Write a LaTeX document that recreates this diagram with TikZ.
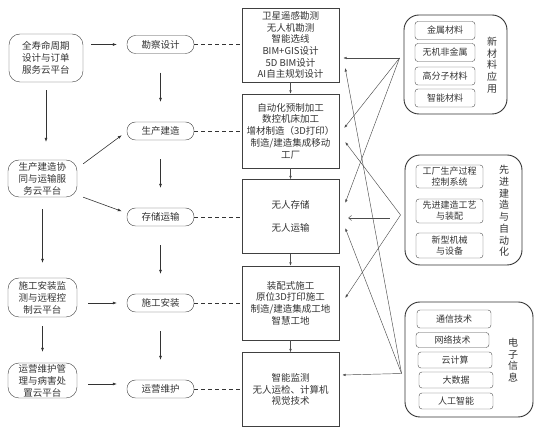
\documentclass[tikz,border=0pt]{standalone}
\usepackage{fontspec}
\setmainfont{Noto Sans CJK SC}
\usetikzlibrary{arrows.meta}

\tikzset{
  every node/.style={text=black!80},
  platform/.style={draw=black!75, rounded corners=11pt, align=center, inner sep=0pt,
    font=\fontsize{9.5}{12}\selectfont},
  stage/.style={draw=black!75, rounded corners=8.5pt, minimum width=67pt, minimum height=18pt,
    inner sep=0pt, font=\fontsize{9.5}{11}\selectfont},
  techbox/.style={draw=black!75, minimum width=97pt, minimum height=74pt, align=center,
    inner sep=0pt, font=\fontsize{9.5}{11.7}\selectfont},
  group/.style={draw=black!80, line width=0.9pt, rounded corners=15pt, inner sep=0pt},
  item/.style={draw=black!70, rounded corners=3pt, inner sep=0pt, align=center,
    font=\fontsize{9}{11}\selectfont},
  side/.style={align=center, font=\fontsize{10}{11.7}\selectfont},
  arr/.style={-{Latex[length=4pt,width=3pt]}, black!80, line width=0.6pt},
  link/.style={-{Latex[length=3.5pt,width=2.5pt]}, black!70, line width=0.45pt},
  guide/.style={black!80, line width=0.6pt, dash pattern=on 4pt off 3pt}
}

\begin{document}
\begin{tikzpicture}[x=1pt, y=-1pt]
  \useasboundingbox (0,0) rectangle (550,438);

  % cloud platforms (left)
  \node[platform, minimum width=74pt, minimum height=48pt] (L1) at (46,58) {全寿命周期\\设计与订单\\服务云平台};
  \node[platform, minimum width=69pt, minimum height=37pt] (L2) at (42.5,178.5) {生产建造协\\同与运输服\\务云平台};
  \node[platform, minimum width=69pt, minimum height=39pt] (L3) at (42.5,297.5) {施工安装监\\测与远程控\\制云平台};
  \node[platform, minimum width=69pt, minimum height=35pt] (L4) at (42.5,380.5) {运营维护管\\理与病害处\\置云平台};

  % life-cycle stages
  \node[stage] (M1) at (160.5,44.5) {勘察设计};
  \node[stage] (M2) at (160.5,131) {生产建造};
  \node[stage] (M3) at (160.5,217) {存储运输};
  \node[stage] (M4) at (160.5,303) {施工安装};
  \node[stage] (M5) at (160.5,389) {运营维护};

  % technologies per stage
  \node[techbox] (R1) at (290.5,45) {卫星遥感勘测\\无人机勘测\\智能选线\\BIM+GIS设计\\5D BIM设计\\AI自主规划设计};
  \node[techbox] (R2) at (290.5,131) {自动化预制加工\\数控机床加工\\增材制造（3D打印）\\制造/建造集成移动\\工厂};
  \node[techbox] (R3) at (290.5,216.5) {无人存储\\[12pt]无人运输};
  \node[techbox] (R4) at (290.5,303) {装配式施工\\原位3D打印施工\\制造/建造集成工地\\智慧工地};
  \node[techbox] (R5) at (290.5,389.5) {智能监测\\无人运检、计算机\\视觉技术};

  % supporting fields
  \node[group, minimum width=103pt, minimum height=99pt] (G1) at (455.5,64.5) {};
  \node[item, minimum width=60pt, minimum height=18pt] (g11) at (445,30.5) {金属材料};
  \node[item, minimum width=60pt, minimum height=18pt] (g12) at (445,52.5) {无机非金属};
  \node[item, minimum width=60pt, minimum height=18pt] (g13) at (445,76) {高分子材料};
  \node[item, minimum width=60pt, minimum height=18pt] (g14) at (445,98) {智能材料};
  \node[side] (s1) at (492,65) {新\\材\\料\\应\\用};

  \node[group, minimum width=117pt, minimum height=110pt] (G2) at (463.5,210) {};
  \node[item, minimum width=67pt, minimum height=23pt] (g21) at (449.5,176.5) {工厂生产过程\\控制系统};
  \node[item, minimum width=67pt, minimum height=24pt] (g22) at (449.5,211) {先进建造工艺\\与装配};
  \node[item, minimum width=67pt, minimum height=25pt] (g23) at (449.5,245.5) {新型机械\\与设备};
  \node[side] (s2) at (504,211) {先\\进\\建\\造\\与\\自\\动\\化};

  \node[group, minimum width=128pt, minimum height=115pt] (G3) at (469,359.5) {};
  \node[item, minimum width=74pt, minimum height=18pt] (g31) at (454,319) {通信技术};
  \node[item, minimum width=73pt, minimum height=15pt] (g32) at (452.5,340) {网络技术};
  \node[item, minimum width=74pt, minimum height=16pt] (g33) at (455,360) {云计算};
  \node[item, minimum width=74pt, minimum height=16pt] (g34) at (456,380) {大数据};
  \node[item, minimum width=74pt, minimum height=16pt] (g35) at (456,401) {人工智能};
  \node[side] (s3) at (513,360) {电\\子\\信\\息};

  % platform arrows
  \draw[arr, shorten <=8pt, shorten >=10pt] (L1.east |- M1.west) -- (M1.west);
  \draw[arr, shorten <=8pt, shorten >=18pt] (L1.south) -- (L1.south |- L2.north);
  \draw[arr] ([xshift=6pt,yshift=-4pt]L2.north east) -- ([xshift=-5pt,yshift=5pt]M2.south west);
  \draw[arr] ([xshift=6pt]L2.south east) -- ([xshift=-5pt,yshift=-3.5pt]M3.north west);
  \draw[arr, shorten <=12pt, shorten >=15pt] (L2.south) -- (L2.south |- L3.north);
  \draw[arr, shorten <=11pt, shorten >=10pt] (L3.east |- M4.west) -- (M4.west);
  \draw[arr, shorten <=9pt, shorten >=11pt] (L3.south) -- (L3.south |- L4.north);
  \draw[arr, shorten <=11pt, shorten >=10pt] ([yshift=5pt]L4.east |- M5.west) -- ([yshift=5pt]M5.west);

  % stage arrows
  \foreach \a/\b in {M1/M2, M2/M3, M3/M4, M4/M5}
    \draw[arr, shorten <=19pt, shorten >=20pt] (\a.south) -- (\b.north);

  % stage to technology
  \foreach \m/\r in {M1/R1, M2/R2, M3/R3, M4/R4, M5/R5}
    \draw[guide] (\m.east) -- (\m.east -| \r.west);
  \foreach \a/\b in {R1/R2, R2/R3, R3/R4, R4/R5}
    \draw[link] (\a.south) -- (\b.north);

  % fields to stages
  \coordinate (src1) at ([xshift=-4pt,yshift=6.5pt]G1.west);
  \coordinate (src2) at ([xshift=-4pt,yshift=-5pt]G2.west);
  \coordinate (src3) at ([xshift=-3pt,yshift=-14pt]G3.west);
  \draw[link] (src1) -- ([xshift=4pt,yshift=-13pt]R1.east);
  \draw[link] (src1) -- ([xshift=5pt,yshift=3pt]R2.east);
  \draw[link] (src1) -- ([xshift=6pt,yshift=13.5pt]R3.east);
  \draw[link] (src2) -- ([xshift=6pt,yshift=-11pt]R2.east);
  \draw[black!70, line width=0.45pt, -{Straight Barb[length=3pt,width=5pt]}]
    ([xshift=-15pt,yshift=-8pt]G2.west) -- ([xshift=9pt,yshift=-1.5pt]R3.east);
  \draw[link] (src2) -- ([xshift=6pt,yshift=5pt]R4.east);
  \draw[link] (src3) -- ([xshift=3pt,yshift=14.5pt]R5.east);
  \draw[link] (src3) -- ([xshift=6pt,yshift=-23pt]R1.east);
  \draw[link] (src3) -- ([xshift=6pt,yshift=-11.5pt]R3.east);
\end{tikzpicture}
\end{document}
